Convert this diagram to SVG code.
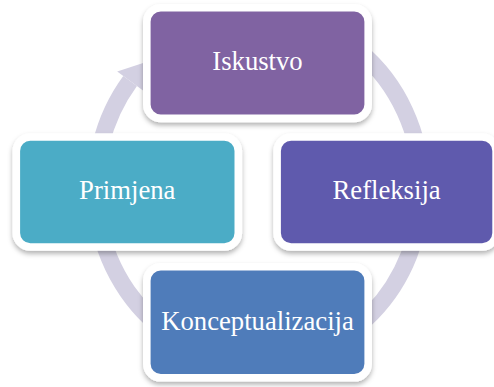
<svg xmlns="http://www.w3.org/2000/svg" width="494" height="387" viewBox="0 0 494 387">
<defs>
<filter id="sh" x="-10%" y="-10%" width="120%" height="130%">
<feDropShadow dx="0" dy="3" stdDeviation="2.5" flood-color="#000" flood-opacity="0.3"/>
</filter>
<style>
.node rect { stroke:#ffffff; stroke-width:7.6; filter:url(#sh); }
.node text { font-family:"Liberation Serif","Times New Roman",serif; font-size:26.7px; fill:#ffffff; text-anchor:middle; }
.ring { fill:none; stroke:#D3D0E2; stroke-width:17; }
.head { fill:#D3D0E2; }
</style>
</defs>
<rect width="494" height="387" fill="#ffffff"/>
<g id="connectors">
<path class="ring" d="M300.7,19.9 A163,174 0 1 1 130.1,80.9"/>
<polygon class="head" points="117.2,71.4 143.1,63.1 143.0,90.4"/>
</g>
<g id="node-iskustvo" class="node">
<rect x="146.8" y="7.8" width="221.4" height="110.6" rx="14" fill="#8064A2"/>
<text x="257.5" y="70.3">Iskustvo</text>
</g>
<g id="node-refleksija" class="node">
<rect x="277.1" y="137" width="219" height="110" rx="14" fill="#5F5AAD"/>
<text x="386.6" y="199.3">Refleksija</text>
</g>
<g id="node-konceptualizacija" class="node">
<rect x="146.8" y="266.8" width="221.4" height="111" rx="14" fill="#4F7BBA"/>
<text x="257.5" y="330">Konceptualizacija</text>
</g>
<g id="node-primjena" class="node">
<rect x="16.3" y="137" width="222" height="110" rx="14" fill="#4BACC6"/>
<text x="127.3" y="199.3">Primjena</text>
</g>
</svg>
